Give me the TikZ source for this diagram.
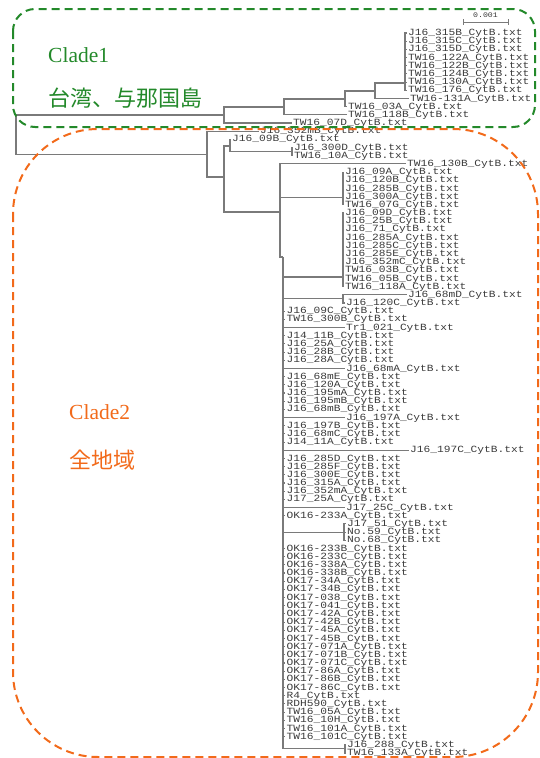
\documentclass[tikz,border=0pt]{standalone}
\usepackage{fontspec}
\setmainfont{Liberation Serif}
\newfontfamily\monof[FakeStretch=1.18]{Liberation Mono}
\newfontfamily\cjkf{Noto Sans CJK JP}
\definecolor{treeline}{HTML}{7A7A7A}
\definecolor{labelc}{HTML}{3A3A3A}
\definecolor{cgreen}{HTML}{23892A}
\definecolor{corange}{HTML}{F26A1A}
\begin{document}
\begin{tikzpicture}[x=1pt,y=-1pt,
  br/.style={draw=treeline, line width=1.1pt},
  leaf/.style={anchor=west, inner xsep=1.5pt, inner ysep=0pt, text=labelc,
    font=\monof\fontsize{9.5}{9.5}\selectfont, text height=5.8pt, text depth=0.6pt},
  cladebox/.style={line width=2pt, dash pattern=on 8pt off 5pt},
  cladetxt/.style={inner sep=0pt, font=\fontsize{21.5}{21.5}\selectfont},
  cjktxt/.style={inner sep=0pt, font=\cjkf\fontsize{22}{22}\selectfont}
]
\useasboundingbox (0,0) rectangle (539,758);

% ---------- leaves ----------
\foreach \i/\nm/\xx in {
 1/J16\_315B/406.5, 2/J16\_315C/406.5, 3/J16\_315D/406.5, 4/TW16\_122A/406.5,
 5/TW16\_122B/406.5, 6/TW16\_124B/406.5, 7/TW16\_130A/406.5, 8/TW16\_176/406.5,
 9/TW16-131A/408.5, 10/TW16\_03A/346.5, 11/TW16\_118B/346.5, 12/TW16\_07D/291.5,
 13/J16\_352mB/258.5, 14/J16\_09B/230.5, 15/J16\_300D/292.5, 16/TW16\_10A/292.5,
 17/TW16\_130B/405.5,
 18/J16\_09A/343.5, 19/J16\_120B/343.5, 20/J16\_285B/343.5, 21/J16\_300A/343.5, 22/TW16\_07G/343.5,
 23/J16\_09D/343.5, 24/J16\_25B/343.5, 25/J16\_71/343.5, 26/J16\_285A/343.5, 27/J16\_285C/343.5,
 28/J16\_285E/343.5, 29/J16\_352mC/343.5, 30/TW16\_03B/343.5, 31/TW16\_05B/343.5, 32/TW16\_118A/343.5,
 33/J16\_68mD/406.5, 34/J16\_120C/344.5,
 35/J16\_09C/285, 36/TW16\_300B/285, 37/Tr1\_021/344.5,
 38/J14\_11B/285, 39/J16\_25A/285, 40/J16\_28B/285, 41/J16\_28A/285,
 42/J16\_68mA/344.5,
 43/J16\_68mE/285, 44/J16\_120A/285, 45/J16\_195mA/285, 46/J16\_195mB/285, 47/J16\_68mB/285,
 48/J16\_197A/344.5,
 49/J16\_197B/285, 50/J16\_68mC/285, 51/J14\_11A/285,
 52/J16\_197C/408.5,
 53/J16\_285D/285, 54/J16\_285F/285, 55/J16\_300E/285, 56/J16\_315A/285, 57/J16\_352mA/285, 58/J17\_25A/285,
 59/J17\_25C/344.5, 60/OK16-233A/285,
 61/J17\_51/345.5, 62/No.59/345.5, 63/No.68/345.5,
 64/OK16-233B/285, 65/OK16-233C/285, 66/OK16-338A/285, 67/OK16-338B/285,
 68/OK17-34A/285, 69/OK17-34B/285, 70/OK17-038/285, 71/OK17-041/285,
 72/OK17-42A/285, 73/OK17-42B/285, 74/OK17-45A/285, 75/OK17-45B/285,
 76/OK17-071A/285, 77/OK17-071B/285, 78/OK17-071C/285,
 79/OK17-86A/285, 80/OK17-86B/285, 81/OK17-86C/285,
 82/R4/285, 83/RDH590/285, 84/TW16\_05A/285, 85/TW16\_10H/285,
 86/TW16\_101A/285, 87/TW16\_101C/285,
 88/J16\_288/345.5, 89/TW16\_133A/345.5}
 \node[leaf] (l\i) at (\xx, {33+(\i-1)*8.182}) {\nm\_CytB.txt};

% ---------- internal nodes ----------
\coordinate (R) at (16,134.75);
\coordinate (A) at (224,115);
\coordinate (B) at (284,107);
\coordinate (C) at (345,99);
\coordinate (D) at (375,91);
\coordinate (E) at (405,83);
\coordinate (F) at (207,154.5);
\coordinate (G) at (224,177);
\coordinate (H) at (230,146);
\coordinate (I) at (292,151.6);
\coordinate (J) at (280,212);
\coordinate (L1) at (343,197.7);
\coordinate (N) at (283,257);
\coordinate (L2) at (343,277);
\coordinate (K) at (343,298.5);
\coordinate (M) at (344,532.1);
\coordinate (P) at (345,748.9);

% ---------- clade 1 ----------
\draw[br] (R) |- (A);
\draw[br] (A) |- (B);
\draw[br] (A) |- (l12);
\draw[br] (B) |- (C);
\draw[br] (B) |- (l11);
\draw[br] (C) |- (D);
\draw[br] (C) |- (l10);
\draw[br] (D) |- (E);
\draw[br] (D) |- (l9);
\foreach \i in {1,...,8} \draw[br] (E) |- (l\i);

% ---------- clade 2 ----------
\draw[br] (R) |- (F);
\draw[br] (F) |- (l13);
\draw[br] (F) |- (G);
\draw[br] (G) |- (H);
\draw[br] (G) |- (J);
\draw[br] (H) |- (l14);
\draw[br] (H) |- (I);
\draw[br] (I) |- (l15);
\draw[br] (I) |- (l16);
\draw[br] (J) |- (l17);
\draw[br] (J) |- (L1);
\draw[br] (J) |- (N);
\foreach \i in {18,...,22} \draw[br] (L1) |- (l\i);
\draw[br] (N) |- (L2);
\foreach \i in {23,...,32} \draw[br] (L2) |- (l\i);
\draw[br] (N) |- (K);
\draw[br] (K) |- (l33);
\draw[br] (K) |- (l34);
\foreach \i in {35,36,37,38,39,40,41,42,43,44,45,46,47,48,49,50,51,52,53,54,55,56,57,58,59,60,
  64,65,66,67,68,69,70,71,72,73,74,75,76,77,78,79,80,81,82,83,84,85,86,87}
  \draw[br] (N) |- (l\i);
\draw[br] (N) |- (M);
\foreach \i in {61,62,63} \draw[br] (M) |- (l\i);
\draw[br] (N) |- (P);
\foreach \i in {88,89} \draw[br] (P) |- (l\i);

% ---------- scale bar ----------
\draw[br, line width=0.9pt] (463,22) -- (508,22);
\draw[br, line width=0.9pt] (463,19) -- (463,25);
\draw[br, line width=0.9pt] (508,19) -- (508,25);
\node[inner sep=0pt, text=labelc, font=\monof\fontsize{7}{7}\selectfont] (sb) at (485.5,15.5) {0.001};

% ---------- clade boxes and labels ----------
\node[cladetxt, anchor=base west, text=cgreen] (c1) at (48,62) {Clade1};
\node[cjktxt, anchor=west, text=cgreen] (c1j) at (48,98) {台湾、与那国島};
\node[cladetxt, anchor=base west, text=corange] (c2) at (69,419) {Clade2};
\node[cjktxt, anchor=west, text=corange] (c2j) at (69,460) {全地域};

\draw[cladebox, draw=corange, rounded corners=85pt] (13,129) rectangle (538,757);
\draw[cladebox, draw=cgreen, rounded corners=22pt] (13,9) rectangle (535,127);
\end{tikzpicture}
\end{document}
